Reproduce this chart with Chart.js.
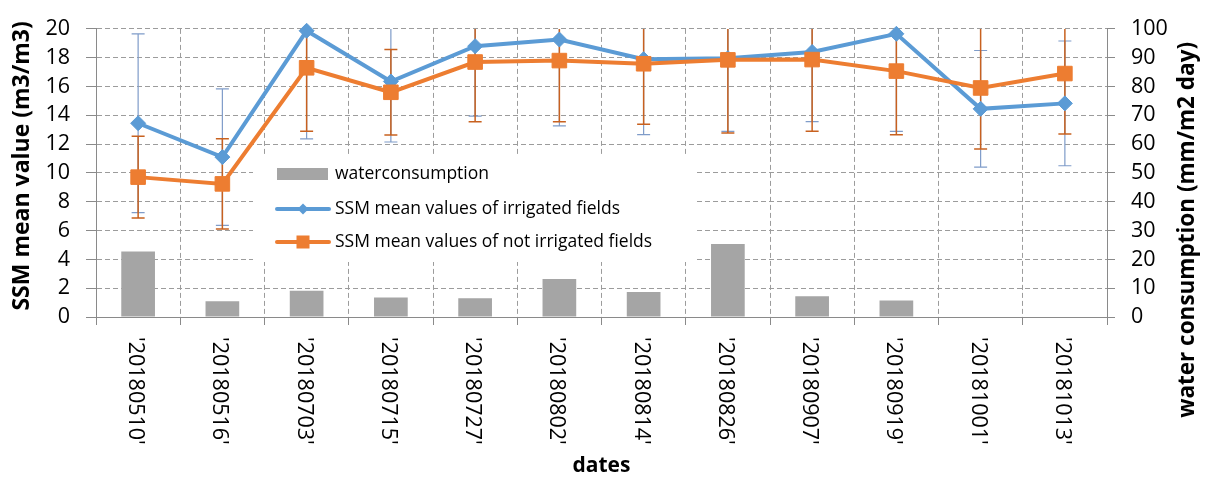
<!DOCTYPE html>
<html>
<head>
<meta charset="utf-8">
<title>SSM mean values and water consumption</title>
<script src="https://cdn.jsdelivr.net/npm/chart.js@4.4.0/dist/chart.umd.min.js"></script>
<style>
  html, body { margin: 0; padding: 0; background: #ffffff; }
  #wrap { width: 1209px; height: 477px; }
</style>
</head>
<body>
<div id="wrap"><canvas id="chart" width="1209" height="477"></canvas></div>
<script>
// Acquisition dates
const dates = ["'20180510'", "'20180516'", "'20180703'", "'20180715'", "'20180727'", "'20180802'",
               "'20180814'", "'20180826'", "'20180907'", "'20180919'", "'20181001'", "'20181013'"];

// Water consumption (mm/m2 day), right axis
const waterConsumption = [22.7, 5.5, 9.1, 6.8, 6.5, 13.2, 8.7, 25.3, 7.2, 5.7, 0, 0];

// SSM mean values (m3/m3), left axis, with their error ranges
const ssmIrrigated      = [13.45, 11.1, 19.87, 16.35, 18.8, 19.26, 17.9, 17.97, 18.4, 19.66, 14.45, 14.83];
const ssmIrrigatedErr   = [6.2, 4.74, 7.5, 4.2, 4.86, 5.99, 5.24, 5.08, 4.84, 6.77, 4.05, 4.33];
const ssmNotIrrigated   = [9.71, 9.24, 17.3, 15.6, 17.7, 17.8, 17.58, 17.85, 17.87, 17.07, 15.9, 16.9];
const ssmNotIrrigatedErr = [2.84, 3.13, 4.41, 2.97, 4.14, 4.24, 4.2, 5.08, 4.98, 4.41, 4.24, 4.19];

// Axis ranges
const ssmAxis   = { min: 0, max: 20, step: 2 };
const waterAxis = { min: 0, max: 100, step: 10 };

// Series and axis names
const seriesNames = ['waterconsumption', 'SSM mean values of irrigated fields', 'SSM mean values of not irrigated fields'];
const ssmAxisTitle = 'SSM mean value (m3/m3)';
const waterAxisTitle = 'water consumption (mm/m2 day)';

const BLUE = '#5B9BD5';
const ORANGE = '#ED7D31';
const GREY_BAR = '#A5A5A5';
const GRID = '#9C9C9C';
const AXIS = '#8A8A8A';
const TEXT = '#000000';
const FONT = '"Open Sans"';

// Vertical error bars, drawn under the series
const errorBarPlugin = {
  id: 'errorBarPlugin',
  beforeDatasetsDraw(chart) {
    const { ctx, chartArea } = chart;
    ctx.save();
    ctx.beginPath();
    ctx.rect(chartArea.left, chartArea.top, chartArea.right - chartArea.left, chartArea.bottom - chartArea.top);
    ctx.clip();
    chart.data.datasets.forEach((ds, i) => {
      if (!ds.errorValues) return;
      const meta = chart.getDatasetMeta(i);
      const yScale = chart.scales[ds.yAxisID];
      ctx.strokeStyle = ds.errorColor;
      ctx.lineWidth = ds.errorWidth;
      meta.data.forEach((pt, j) => {
        const v = ds.data[j], e = ds.errorValues[j];
        const x = pt.x;
        const hi = yScale.getPixelForValue(v + e);
        const lo = yScale.getPixelForValue(v - e);
        ctx.beginPath();
        ctx.moveTo(x, hi); ctx.lineTo(x, lo);
        ctx.moveTo(x - 6.5, hi); ctx.lineTo(x + 6.5, hi);
        ctx.moveTo(x - 6.5, lo); ctx.lineTo(x + 6.5, lo);
        ctx.stroke();
      });
    });
    ctx.restore();
  }
};

// Category labels turned a quarter clockwise under the x axis,
// and both value-axis titles reading upwards
const axisTextPlugin = {
  id: 'axisTextPlugin',
  afterDraw(chart) {
    const { ctx } = chart;
    const xScale = chart.scales.x;
    const yL = chart.scales.ySSM;
    const yR = chart.scales.yWater;
    ctx.save();
    ctx.fillStyle = TEXT;
    ctx.font = '21.5px ' + FONT;
    ctx.textAlign = 'left';
    ctx.textBaseline = 'middle';
    chart.data.labels.forEach((lab, i) => {
      const x = xScale.getPixelForTick(i) - 3;
      ctx.save();
      ctx.translate(x, xScale.top + 20);
      ctx.rotate(Math.PI / 2);
      ctx.fillText(lab, 0, 0);
      ctx.restore();
    });

    ctx.font = 'bold 23px ' + FONT;
    ctx.textAlign = 'center';
    ctx.save();
    ctx.translate(yL.left + 22, yL.top + 137);
    ctx.rotate(-Math.PI / 2);
    ctx.fillText(ssmAxisTitle, 0, 0);
    ctx.restore();

    ctx.font = 'bold 22.5px ' + FONT;
    ctx.save();
    ctx.translate(yR.right - 21, yR.top + 201);
    ctx.rotate(-Math.PI / 2);
    ctx.fillText(waterAxisTitle, 0, 0);
    ctx.restore();
    ctx.restore();
  }
};

// Legend box placed inside the plot
const insideLegendPlugin = {
  id: 'insideLegendPlugin',
  afterDraw(chart) {
    const { ctx } = chart;
    const box = { x: 253, y: 155, w: 442, h: 107 };
    ctx.save();
    ctx.fillStyle = '#ffffff';
    ctx.fillRect(box.x, box.y, box.w, box.h);
    const ds = chart.data.datasets;
    const keyX = 277, keyW = 52, textX = 335;
    const rows = [174, 209, 242];
    // bar swatch
    ctx.fillStyle = ds[0].backgroundColor;
    ctx.fillRect(keyX, rows[0] - 6, keyW - 1, 12);
    // line keys
    [1, 2].forEach((k) => {
      const y = rows[k];
      ctx.strokeStyle = ds[k].borderColor;
      ctx.lineWidth = 4;
      ctx.lineCap = 'round';
      ctx.beginPath();
      ctx.moveTo(keyX, y); ctx.lineTo(keyX + keyW, y);
      ctx.stroke();
      ctx.fillStyle = ds[k].borderColor;
      const cx = keyX + keyW / 2;
      if (ds[k].pointStyle === 'rectRot') {
        ctx.beginPath();
        ctx.moveTo(cx, y - 5.5); ctx.lineTo(cx + 5.5, y); ctx.lineTo(cx, y + 5.5); ctx.lineTo(cx - 5.5, y);
        ctx.closePath(); ctx.fill();
      } else {
        ctx.fillRect(cx - 6.5, y - 6.5, 13, 13);
      }
    });
    ctx.fillStyle = TEXT;
    ctx.font = '17.5px ' + FONT;
    ctx.textAlign = 'left';
    ctx.textBaseline = 'middle';
    ds.forEach((d, k) => ctx.fillText(d.label, textX, rows[k]));
    ctx.restore();
  }
};

function build() {
  const ctx = document.getElementById('chart').getContext('2d');
  new Chart(ctx, {
    type: 'bar',
    data: {
      labels: dates,
      datasets: [
        {
          type: 'bar',
          label: seriesNames[0],
          data: waterConsumption,
          yAxisID: 'yWater',
          backgroundColor: GREY_BAR,
          borderWidth: 0,
          barPercentage: 0.4,
          categoryPercentage: 1.0,
          order: 3
        },
        {
          type: 'line',
          label: seriesNames[1],
          data: ssmIrrigated,
          errorValues: ssmIrrigatedErr,
          errorColor: '#7F9CC9',
          errorWidth: 1.2,
          yAxisID: 'ySSM',
          borderColor: BLUE,
          backgroundColor: BLUE,
          borderWidth: 4,
          pointStyle: 'rectRot',
          pointRadius: 7.5,
          pointBorderWidth: 1,
          pointBackgroundColor: BLUE,
          pointBorderColor: BLUE,
          tension: 0,
          clip: false,
          order: 2
        },
        {
          type: 'line',
          label: seriesNames[2],
          data: ssmNotIrrigated,
          errorValues: ssmNotIrrigatedErr,
          errorColor: '#C8611F',
          errorWidth: 1.5,
          yAxisID: 'ySSM',
          borderColor: ORANGE,
          backgroundColor: ORANGE,
          borderWidth: 4,
          pointStyle: 'rect',
          pointRadius: 10.3,
          pointBorderWidth: 1,
          pointBackgroundColor: ORANGE,
          pointBorderColor: ORANGE,
          tension: 0,
          clip: false,
          order: 1
        }
      ]
    },
    options: {
      responsive: false,
      animation: false,
      devicePixelRatio: 1,
      layout: { padding: { top: 19, left: 0, right: 0, bottom: 0 } },
      plugins: { legend: { display: false }, tooltip: { enabled: false } },
      scales: {
        x: {
          type: 'category',
          offset: true,
          grid: {
            offset: true, color: GRID, lineWidth: 1, borderDash: [5, 3],
            drawTicks: true, tickLength: 8, tickColor: AXIS, tickBorderDash: []
          },
          border: { display: true, color: AXIS, width: 1, dash: [5, 3] },
          ticks: { display: false },
          title: {
            display: true, text: 'dates', color: TEXT,
            font: { family: FONT, size: 21, weight: 'bold', lineHeight: 1.0 },
            padding: { top: 0, bottom: 0 }
          },
          afterFit(scale) { scale.height = 160; }
        },
        ySSM: {
          type: 'linear',
          position: 'left',
          min: ssmAxis.min, max: ssmAxis.max,
          grid: {
            color: GRID, lineWidth: 1, borderDash: [5, 3],
            drawTicks: true, tickLength: 10, tickColor: AXIS, tickBorderDash: []
          },
          border: { display: true, color: AXIS, width: 1, dash: [5, 3] },
          ticks: {
            stepSize: ssmAxis.step, color: TEXT, padding: 16,
            font: { family: FONT, size: 21.5 }
          },
          title: { display: false },
          afterFit(scale) { scale.width = 96; }
        },
        yWater: {
          type: 'linear',
          position: 'right',
          min: waterAxis.min, max: waterAxis.max,
          grid: {
            drawOnChartArea: false, color: GRID,
            drawTicks: true, tickLength: 8, tickColor: AXIS, tickBorderDash: []
          },
          border: { display: true, color: AXIS, width: 1 },
          ticks: {
            stepSize: waterAxis.step, color: TEXT, padding: 16,
            font: { family: FONT, size: 21.5 }
          },
          title: { display: false },
          afterFit(scale) { scale.width = 102; }
        }
      }
    },
    plugins: [errorBarPlugin, axisTextPlugin, insideLegendPlugin]
  });
}

Promise.all([
  document.fonts.load('21px "Open Sans"'),
  document.fonts.load('bold 23px "Open Sans"')
]).then(build, build);
</script>
</body>
</html>
